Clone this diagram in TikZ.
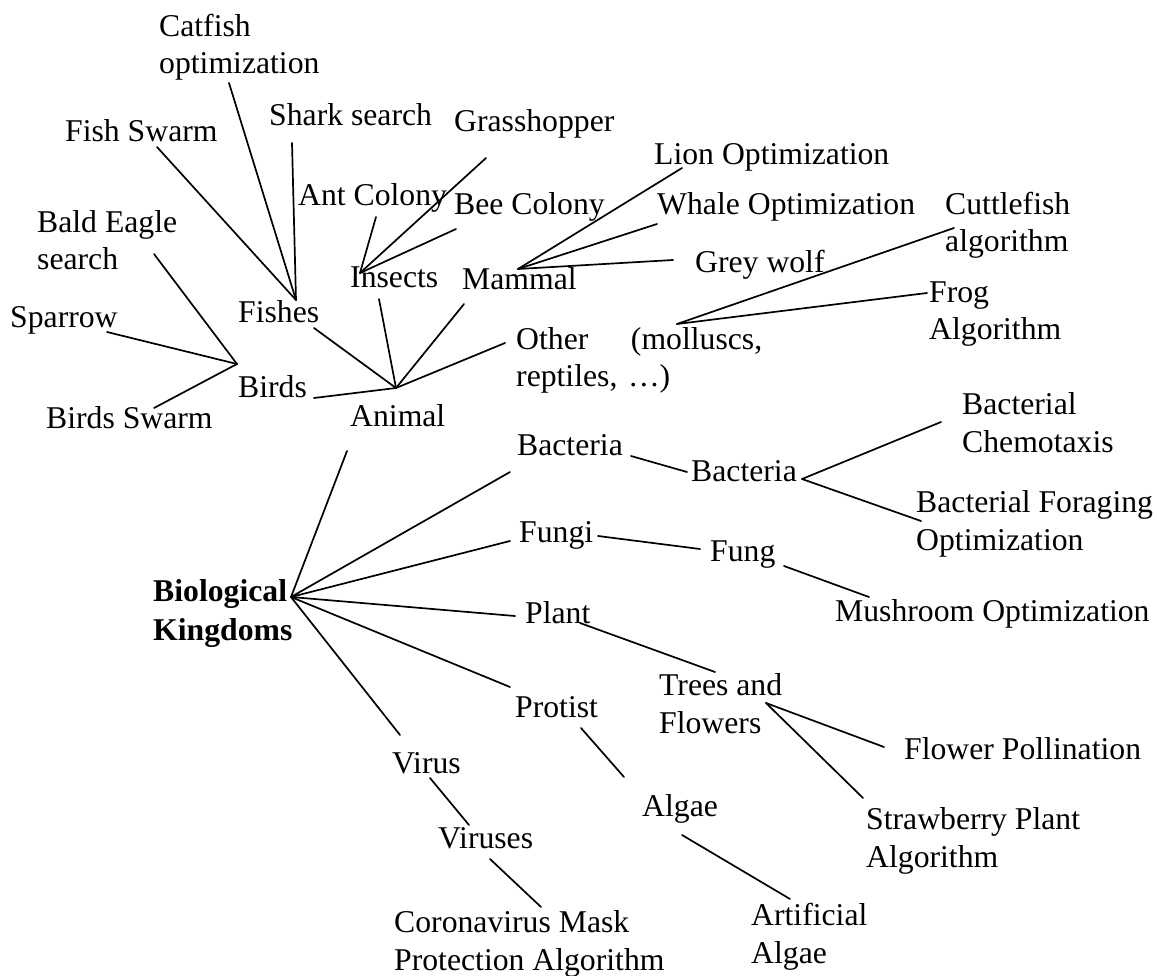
\documentclass[tikz,border=0pt]{standalone}
\usepackage{fontspec}
\setmainfont{Liberation Serif}
\usetikzlibrary{calc}
\tikzset{
  leaf/.style={inner sep=0pt, anchor=base west, align=left, font=\fontsize{31.7}{37.5}\selectfont},
  root/.style={leaf, font=\fontsize{31.7}{39}\selectfont\bfseries},
  branch/.style={draw=black, line width=1.7pt, line cap=round}
}

\begin{document}
\begin{tikzpicture}[x=1pt,y=-1pt]
\useasboundingbox (0,0) rectangle (1157,976);

% --------------------------------------------------------------------------
% Animal kingdom: fishes, insects, mammals, birds, others
% (multi-line nodes sit on the baseline of their last line)
% --------------------------------------------------------------------------
\node[leaf] (catfish) at (159,74) {Catfish\\optimization};
\node[leaf] (shark) at (269,126) {Shark search};
\node[leaf] (fishSwarm) at (65,142) {Fish Swarm};
\node[leaf] (fishes) at (238,323) {Fishes};
\coordinate (fishJoin) at (296,300);

\node[leaf] (grass) at (454,132) {Grasshopper};
\node[leaf] (ant) at (298,206) {Ant Colony};
\node[leaf] (bee) at (454,215) {Bee Colony};
\node[leaf] (insects) at (350,288) {Insects};
\coordinate (insectJoin) at (360,273);

\node[leaf] (lion) at (654,165) {Lion Optimization};
\node[leaf] (whale) at (657,215) {Whale Optimization};
\node[leaf] (grey) at (695,273) {Grey wolf};
\node[leaf] (mammal) at (462,290) {Mammal};
\coordinate (mammalJoin) at (518,269);

\node[leaf] (cuttle) at (945,252) {Cuttlefish\\algorithm};
\node[leaf] (frog) at (929,340) {Frog\\Algorithm};
% with a text width the node sits on its first line
\node[leaf, text width=246pt] (other) at (516,349) {Other\hfill(molluscs,\\reptiles, …)};
\coordinate (molluscJoin) at (677,324);

\node[leaf] (bald) at (37,270) {Bald Eagle\\search};
\node[leaf] (sparrow) at (10,328) {Sparrow};
\node[leaf] (birdsSwarm) at (46,428) {Birds Swarm};
\node[leaf] (birds) at (238,397) {Birds};
\coordinate (birdJoin) at (237,364);

\node[leaf] (animal) at (350,426) {Animal};
\coordinate (animalJoin) at (396,388);

\draw[branch] ([shift={(70,9)}]catfish.base west) -- (fishJoin);
\draw[branch] ([shift={(23,17)}]shark.base west) -- (fishJoin);
\draw[branch] ([shift={(92,5)}]fishSwarm.base west) -- (fishJoin);
\draw[branch] ([shift={(32,26)}]grass.base west) -- (insectJoin);
\draw[branch] ([shift={(78,11)}]ant.base west) -- (insectJoin);
\draw[branch] ([shift={(2,14)}]bee.base west) -- (insectJoin);
\draw[branch] ([shift={(28,3)}]lion.base west) -- (mammalJoin);
\draw[branch] ([shift={(0,9)}]whale.base west) -- (mammalJoin);
\draw[branch] ([shift={(-22,-13)}]grey.base west) -- (mammalJoin);
\draw[branch] ([shift={(9,-24)}]cuttle.base west) -- (molluscJoin);
\draw[branch] ([shift={(-2,-47)}]frog.base west) -- (molluscJoin);
\draw[branch] ([shift={(97,4)}]sparrow.base west) -- (birdJoin);
\draw[branch] ([shift={(117,-16)}]bald.base west) -- (birdJoin);
\draw[branch] ([shift={(108,-20)}]birdsSwarm.base west) -- (birdJoin);

\draw[branch] ([shift={(76,5)}]fishes.base west) -- (animalJoin);
\draw[branch] ([shift={(29,11)}]insects.base west) -- (animalJoin);
\draw[branch] ([shift={(2,14)}]mammal.base west) -- (animalJoin);
\draw[branch] ([shift={(-11,-6)}]other.base west) -- (animalJoin);
\draw[branch] ([shift={(76,1)}]birds.base west) -- (animalJoin);

% --------------------------------------------------------------------------
% Root and the other kingdoms
% --------------------------------------------------------------------------
\node[root] (kingdoms) at (153,640) {Biological\\Kingdoms};
\coordinate (kingdomJoin) at (291,597);

\node[leaf] (bacteria) at (517,455) {Bacteria};
\node[leaf] (bacteriaB) at (691,481) {Bacteria};
\node[leaf] (chemo) at (962,452) {Bacterial\\Chemotaxis};
\node[leaf] (foraging) at (916,550) {Bacterial Foraging\\Optimization};
\coordinate (bacteriaJoin) at (802,479);

\node[leaf] (fungi) at (519,542) {Fungi};
\node[leaf] (fung) at (710,561) {Fung};
\node[leaf] (mushroom) at (835,621) {Mushroom Optimization};

\node[leaf] (plant) at (525,623) {Plant};
\node[leaf] (trees) at (659,733) {Trees and\\Flowers};
\node[leaf] (pollination) at (904,759) {Flower Pollination};
\node[leaf] (strawberry) at (866,867) {Strawberry Plant\\Algorithm};
\coordinate (treesJoin) at (766,703);

\node[leaf] (protist) at (515,717) {Protist};
\node[leaf] (algae) at (642,816) {Algae};
\node[leaf] (artificial) at (751,963) {Artificial\\Algae};

\node[leaf] (virus) at (392,773) {Virus};
\node[leaf] (viruses) at (438,848) {Viruses};
\node[leaf] (corona) at (394,970) {Coronavirus Mask\\Protection Algorithm};

\draw[branch] ([shift={(-3,25)}]animal.base west) -- (kingdomJoin);
\draw[branch] (kingdomJoin) -- ([shift={(-7,17)}]bacteria.base west);
\draw[branch] (kingdomJoin) -- ([shift={(-9,-1)}]fungi.base west);
\draw[branch] (kingdomJoin) -- ([shift={(-10,-7)}]plant.base west);
\draw[branch] (kingdomJoin) -- ([shift={(-5,-30)}]protist.base west);
\draw[branch] (kingdomJoin) -- ([shift={(8,-38)}]virus.base west);

\draw[branch] ([shift={(114,1)}]bacteria.base west) -- ([shift={(-4,-9)}]bacteriaB.base west);
\draw[branch] (bacteriaJoin) -- ([shift={(-21,-30)}]chemo.base west);
\draw[branch] (bacteriaJoin) -- ([shift={(5,-29)}]foraging.base west);
\draw[branch] ([shift={(79,-6)}]fungi.base west) -- ([shift={(-10,-12)}]fung.base west);
\draw[branch] ([shift={(74,5)}]fung.base west) -- ([shift={(34,-24)}]mushroom.base west);
\draw[branch] ([shift={(55,0)}]plant.base west) -- ([shift={(56,-61)}]trees.base west);
\draw[branch] (treesJoin) -- ([shift={(-20,-12)}]pollination.base west);
\draw[branch] (treesJoin) -- ([shift={(-3,-69)}]strawberry.base west);
\draw[branch] ([shift={(66,11)}]protist.base west) -- ([shift={(-18,-39)}]algae.base west);
\draw[branch] ([shift={(40,19)}]algae.base west) -- ([shift={(39,-64)}]artificial.base west);
\draw[branch] ([shift={(38,5)}]virus.base west) -- ([shift={(31,-23)}]viruses.base west);
\draw[branch] ([shift={(52,11)}]viruses.base west) -- ([shift={(147,-63)}]corona.base west);

\end{tikzpicture}
\end{document}
